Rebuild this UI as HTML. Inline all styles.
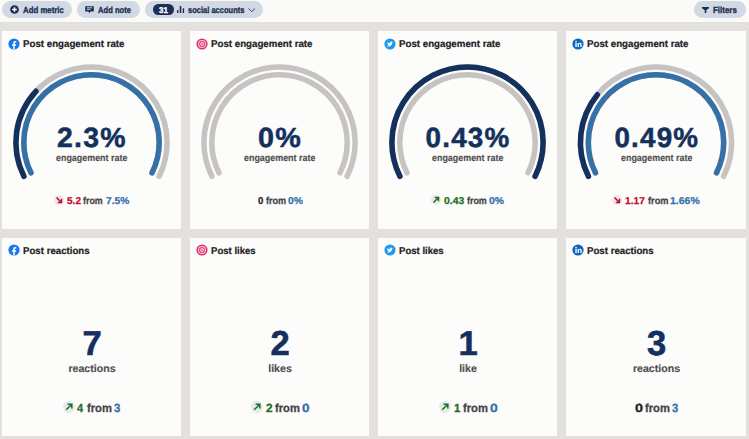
<!DOCTYPE html><html><head><meta charset="utf-8"><style>
html,body{margin:0;padding:0;width:749px;height:439px;overflow:hidden;background:#fafaf9;font-family:"Liberation Sans", sans-serif;}
.c{position:absolute;background:#fcfcfb;}
.b{position:absolute;background:#d2d9e3;border-radius:9px;}
.t{position:absolute;white-space:nowrap;font-weight:700;transform-origin:0 0;text-rendering:geometricPrecision;}
</style></head><body>
<div style="position:absolute;left:0;top:22px;width:749px;height:417px;background:#e3e0dd"></div>
<div class="b" style="left:2px;top:1.2px;width:70px;height:16.8px"></div>
<div class="b" style="left:76.5px;top:1.2px;width:63px;height:16.8px"></div>
<div class="b" style="left:144.5px;top:1.2px;width:118px;height:16.8px"></div>
<div class="b" style="left:694px;top:1.2px;width:52px;height:16.8px"></div>
<svg style="position:absolute;left:9.8px;top:5.4px" width="9" height="9" viewBox="-4.5 -4.5 9 9"><circle r="4.35" fill="#1c3057"/><path d="M-2.3 0H2.3M0 -2.3V2.3" stroke="#fff" stroke-width="1.4"/></svg>
<svg style="position:absolute;left:85px;top:5.8px" width="9" height="8" viewBox="0 0 9 8"><path d="M0.2 0.3H8.8V5.6H5.4L4.4 7.3L3.4 5.6H0.2Z" fill="#1c3057"/><path d="M1.8 1.8H7.2M1.8 3.4H5.4" stroke="#fff" stroke-width="0.75"/></svg>
<div style="position:absolute;left:152.7px;top:4.3px;width:21.7px;height:10.4px;border-radius:5.2px;background:#1c3057"></div>
<svg style="position:absolute;left:177px;top:6px" width="8" height="8" viewBox="0 0 8 8"><rect x="0" y="4" width="1.4" height="3" fill="#1c3057"/><rect x="2.7" y="0" width="1.6" height="7" fill="#1c3057"/><rect x="5.7" y="2.3" width="1.4" height="4.7" fill="#1c3057"/></svg>
<svg style="position:absolute;left:248.2px;top:7.5px" width="7.5" height="4.5" viewBox="0 0 7.5 4.5"><path d="M0.5 0.5L3.75 3.6L7 0.5" stroke="#1c3057" stroke-width="0.9" fill="none"/></svg>
<svg style="position:absolute;left:702.3px;top:6.5px" width="7" height="6.5" viewBox="0 0 7 6.5"><path d="M0 0H7V1.2L4.3 3.3V6.3H2.7V3.3L0 1.2Z" fill="#1c3057"/></svg>
<div class="c" style="left:2px;top:31px;width:179px;height:198px"></div>
<div class="c" style="left:2px;top:238px;width:179px;height:198px"></div>
<div class="c" style="left:190px;top:31px;width:179px;height:198px"></div>
<div class="c" style="left:190px;top:238px;width:179px;height:198px"></div>
<div class="c" style="left:378px;top:31px;width:179px;height:198px"></div>
<div class="c" style="left:378px;top:238px;width:179px;height:198px"></div>
<div class="c" style="left:566px;top:31px;width:180px;height:198px"></div>
<div class="c" style="left:566px;top:238px;width:180px;height:198px"></div>
<svg style="position:absolute;left:7.90px;top:37.50px" width="12" height="12" viewBox="0 0 12 12"><circle cx="6" cy="6" r="5.6" fill="#1877f2"/><path d="M6.75 11.35V7.7h1.25l.22-1.5H6.75v-.95c0-.42.2-.78.8-.78h.75V3.2c-.25-.05-.7-.1-1.15-.1-1.15 0-1.9.72-1.9 1.98v1.12H4.05v1.5h1.2v3.65z" fill="#fff"/></svg>
<svg style="position:absolute;left:7.90px;top:244.20px" width="12" height="12" viewBox="0 0 12 12"><circle cx="6" cy="6" r="5.6" fill="#1877f2"/><path d="M6.75 11.35V7.7h1.25l.22-1.5H6.75v-.95c0-.42.2-.78.8-.78h.75V3.2c-.25-.05-.7-.1-1.15-.1-1.15 0-1.9.72-1.9 1.98v1.12H4.05v1.5h1.2v3.65z" fill="#fff"/></svg>
<svg style="position:absolute;left:2px;top:31px" width="179" height="198"><path d="M21.90 145.35A75.6 75.6 0 1 1 157.10 145.35" stroke="#c6c3c2" stroke-width="5.5" fill="none" stroke-linecap="round"/><path d="M28.97 141.81A67.7 67.7 0 1 1 150.03 141.81" stroke="#c6c3c2" stroke-width="5.5" fill="none" stroke-linecap="round"/><path d="M21.90 145.35A75.6 75.6 0 0 1 33.91 60.27" stroke="#14305d" stroke-width="5.5" fill="none" stroke-linecap="round"/><path d="M28.97 141.81A67.7 67.7 0 1 1 150.03 141.81" stroke="#3571a7" stroke-width="5.5" fill="none" stroke-linecap="round"/></svg>
<svg style="position:absolute;left:195.90px;top:37.50px" width="12" height="12" viewBox="0 0 12 12"><circle cx="6" cy="6" r="5.6" fill="#e1306c"/><rect x="2.75" y="2.75" width="6.5" height="6.5" rx="1.8" fill="none" stroke="#fff" stroke-width="0.9"/><circle cx="6" cy="6" r="1.45" fill="none" stroke="#fff" stroke-width="0.9"/><circle cx="7.95" cy="4.05" r="0.35" fill="#fff"/></svg>
<svg style="position:absolute;left:195.90px;top:244.20px" width="12" height="12" viewBox="0 0 12 12"><circle cx="6" cy="6" r="5.6" fill="#e1306c"/><rect x="2.75" y="2.75" width="6.5" height="6.5" rx="1.8" fill="none" stroke="#fff" stroke-width="0.9"/><circle cx="6" cy="6" r="1.45" fill="none" stroke="#fff" stroke-width="0.9"/><circle cx="7.95" cy="4.05" r="0.35" fill="#fff"/></svg>
<svg style="position:absolute;left:190px;top:31px" width="179" height="198"><path d="M21.90 145.35A75.6 75.6 0 1 1 157.10 145.35" stroke="#c6c3c2" stroke-width="5.5" fill="none" stroke-linecap="round"/><path d="M28.97 141.81A67.7 67.7 0 1 1 150.03 141.81" stroke="#c6c3c2" stroke-width="5.5" fill="none" stroke-linecap="round"/></svg>
<svg style="position:absolute;left:383.90px;top:37.50px" width="12" height="12" viewBox="0 0 12 12"><circle cx="6" cy="6" r="5.6" fill="#1d9bf0"/><path d="M8.9 4.2c-.22.1-.45.16-.7.2.25-.15.44-.39.53-.67-.23.14-.49.24-.76.3a1.2 1.2 0 0 0-2.05 1.1c-1-.05-1.88-.53-2.47-1.25-.1.18-.16.39-.16.6 0 .42.21.79.53 1-.2 0-.38-.06-.54-.15 0 .58.41 1.07.96 1.18-.17.05-.36.05-.54.02.15.48.6.83 1.12.84-.55.43-1.26.65-1.97.57.53.34 1.17.54 1.85.54 2.22 0 3.43-1.84 3.43-3.43v-.16c.23-.17.44-.38.6-.62z" fill="#fff"/></svg>
<svg style="position:absolute;left:383.90px;top:244.20px" width="12" height="12" viewBox="0 0 12 12"><circle cx="6" cy="6" r="5.6" fill="#1d9bf0"/><path d="M8.9 4.2c-.22.1-.45.16-.7.2.25-.15.44-.39.53-.67-.23.14-.49.24-.76.3a1.2 1.2 0 0 0-2.05 1.1c-1-.05-1.88-.53-2.47-1.25-.1.18-.16.39-.16.6 0 .42.21.79.53 1-.2 0-.38-.06-.54-.15 0 .58.41 1.07.96 1.18-.17.05-.36.05-.54.02.15.48.6.83 1.12.84-.55.43-1.26.65-1.97.57.53.34 1.17.54 1.85.54 2.22 0 3.43-1.84 3.43-3.43v-.16c.23-.17.44-.38.6-.62z" fill="#fff"/></svg>
<svg style="position:absolute;left:378px;top:31px" width="179" height="198"><path d="M21.90 145.35A75.6 75.6 0 1 1 157.10 145.35" stroke="#c6c3c2" stroke-width="5.5" fill="none" stroke-linecap="round"/><path d="M28.97 141.81A67.7 67.7 0 1 1 150.03 141.81" stroke="#c6c3c2" stroke-width="5.5" fill="none" stroke-linecap="round"/><path d="M21.90 145.35A75.6 75.6 0 1 1 157.10 145.35" stroke="#14305d" stroke-width="5.5" fill="none" stroke-linecap="round"/></svg>
<svg style="position:absolute;left:571.90px;top:37.50px" width="12" height="12" viewBox="0 0 12 12"><circle cx="6" cy="6" r="5.6" fill="#0a66c2"/><rect x="3.35" y="4.9" width="1.35" height="4.1" fill="#fff"/><circle cx="4.02" cy="3.65" r="0.8" fill="#fff"/><path d="M5.6 4.9h1.3v.6c.2-.37.65-.72 1.3-.72 1.05 0 1.45.65 1.45 1.7V9H8.3V6.75c0-.5-.12-.88-.62-.88s-.75.4-.75.9V9H5.6z" fill="#fff"/></svg>
<svg style="position:absolute;left:571.90px;top:244.20px" width="12" height="12" viewBox="0 0 12 12"><circle cx="6" cy="6" r="5.6" fill="#0a66c2"/><rect x="3.35" y="4.9" width="1.35" height="4.1" fill="#fff"/><circle cx="4.02" cy="3.65" r="0.8" fill="#fff"/><path d="M5.6 4.9h1.3v.6c.2-.37.65-.72 1.3-.72 1.05 0 1.45.65 1.45 1.7V9H8.3V6.75c0-.5-.12-.88-.62-.88s-.75.4-.75.9V9H5.6z" fill="#fff"/></svg>
<svg style="position:absolute;left:566px;top:31px" width="180" height="198"><path d="M22.40 145.35A75.6 75.6 0 1 1 157.60 145.35" stroke="#c6c3c2" stroke-width="5.5" fill="none" stroke-linecap="round"/><path d="M29.47 141.81A67.7 67.7 0 1 1 150.53 141.81" stroke="#c6c3c2" stroke-width="5.5" fill="none" stroke-linecap="round"/><path d="M22.40 145.35A75.6 75.6 0 0 1 31.38 63.76" stroke="#14305d" stroke-width="5.5" fill="none" stroke-linecap="round"/><path d="M29.47 141.81A67.7 67.7 0 1 1 150.53 141.81" stroke="#3571a7" stroke-width="5.5" fill="none" stroke-linecap="round"/></svg>
<svg style="position:absolute;left:53.70px;top:195.10px" width="10.0" height="10.0" viewBox="-5.0 -5.0 10.0 10.0"><circle r="5.0" fill="#eee8e9"/><path d="M-2.50 -2.50L2.50 2.50M2.50 -1.25V2.50H-1.25" stroke="#bf102d" stroke-width="1.5" fill="none" stroke-linecap="butt"/></svg>
<svg style="position:absolute;left:431.15px;top:195.10px" width="10.0" height="10.0" viewBox="-5.0 -5.0 10.0 10.0"><circle r="5.0" fill="#e7ebe8"/><path d="M-2.50 2.50L2.50 -2.50M-1.25 -2.50H2.50V1.25" stroke="#1e6e24" stroke-width="1.5" fill="none" stroke-linecap="butt"/></svg>
<svg style="position:absolute;left:612.30px;top:195.10px" width="10.0" height="10.0" viewBox="-5.0 -5.0 10.0 10.0"><circle r="5.0" fill="#eee8e9"/><path d="M-2.50 -2.50L2.50 2.50M2.50 -1.25V2.50H-1.25" stroke="#bf102d" stroke-width="1.5" fill="none" stroke-linecap="butt"/></svg>
<svg style="position:absolute;left:62.80px;top:401.00px" width="12.0" height="12.0" viewBox="-6.0 -6.0 12.0 12.0"><circle r="6.0" fill="#e7ebe8"/><path d="M-2.80 2.80L2.80 -2.80M-1.40 -2.80H2.80V1.40" stroke="#1e6e24" stroke-width="1.5" fill="none" stroke-linecap="butt"/></svg>
<svg style="position:absolute;left:251.15px;top:401.00px" width="12.0" height="12.0" viewBox="-6.0 -6.0 12.0 12.0"><circle r="6.0" fill="#e7ebe8"/><path d="M-2.80 2.80L2.80 -2.80M-1.40 -2.80H2.80V1.40" stroke="#1e6e24" stroke-width="1.5" fill="none" stroke-linecap="butt"/></svg>
<svg style="position:absolute;left:439.15px;top:401.00px" width="12.0" height="12.0" viewBox="-6.0 -6.0 12.0 12.0"><circle r="6.0" fill="#e7ebe8"/><path d="M-2.80 2.80L2.80 -2.80M-1.40 -2.80H2.80V1.40" stroke="#1e6e24" stroke-width="1.5" fill="none" stroke-linecap="butt"/></svg>
<div class="t" style="left:22.95px;top:5.70px;font-size:8.9px;line-height:8.9px;color:#1c3057;transform:scaleX(0.8820);-webkit-text-stroke:0.35px #1c3057;">Add metric</div>
<div class="t" style="left:98.26px;top:5.70px;font-size:8.9px;line-height:8.9px;color:#1c3057;transform:scaleX(0.8566);-webkit-text-stroke:0.35px #1c3057;">Add note</div>
<div class="t" style="left:158.64px;top:6.15px;font-size:8.5px;line-height:8.5px;color:#ffffff;transform:scaleX(0.9278);-webkit-text-stroke:0.35px #ffffff;">31</div>
<div class="t" style="left:187.56px;top:5.70px;font-size:8.9px;line-height:8.9px;color:#1c3057;transform:scaleX(0.8477);-webkit-text-stroke:0.35px #1c3057;">social accounts</div>
<div class="t" style="left:713.43px;top:5.70px;font-size:8.9px;line-height:8.9px;color:#1c3057;transform:scaleX(0.8951);-webkit-text-stroke:0.35px #1c3057;">Filters</div>
<div class="t" style="left:22.86px;top:39.80px;font-size:9.9px;line-height:9.9px;color:#222222;transform:scaleX(0.9839);-webkit-text-stroke:0.2px #222222;">Post engagement rate</div>
<div class="t" style="left:22.87px;top:246.90px;font-size:9.9px;line-height:9.9px;color:#222222;transform:scaleX(0.9791);-webkit-text-stroke:0.2px #222222;">Post reactions</div>
<div class="t" style="left:57.23px;top:124.30px;font-size:27.8px;line-height:27.8px;color:#14305d;transform:scaleX(1.0222);-webkit-text-stroke:0.5px #14305d;letter-spacing:1.2px;">2.3%</div>
<div class="t" style="left:56.04px;top:154.00px;font-size:9.6px;line-height:9.6px;color:#4f4f4f;transform:scaleX(0.9292);-webkit-text-stroke:0.15px #4f4f4f;">engagement rate</div>
<div class="t" style="left:-58.00px;width:300px;text-align:center;top:326.80px;font-size:34.6px;line-height:34.6px;color:#14305d;-webkit-text-stroke:0.6px #14305d;">7</div>
<div class="t" style="left:-58.00px;width:300px;text-align:center;top:364.00px;font-size:10.6px;line-height:10.6px;color:#4f4f4f;-webkit-text-stroke:0.15px #4f4f4f;">reactions</div>
<div class="t" style="left:210.86px;top:39.80px;font-size:9.9px;line-height:9.9px;color:#222222;transform:scaleX(0.9839);-webkit-text-stroke:0.2px #222222;">Post engagement rate</div>
<div class="t" style="left:210.87px;top:246.90px;font-size:9.9px;line-height:9.9px;color:#222222;transform:scaleX(0.9689);-webkit-text-stroke:0.2px #222222;">Post likes</div>
<div class="t" style="left:258.02px;top:124.30px;font-size:27.8px;line-height:27.8px;color:#14305d;transform:scaleX(1.0340);-webkit-text-stroke:0.5px #14305d;letter-spacing:1.2px;">0%</div>
<div class="t" style="left:244.04px;top:154.00px;font-size:9.6px;line-height:9.6px;color:#4f4f4f;transform:scaleX(0.9292);-webkit-text-stroke:0.15px #4f4f4f;">engagement rate</div>
<div class="t" style="left:130.00px;width:300px;text-align:center;top:326.80px;font-size:34.6px;line-height:34.6px;color:#14305d;-webkit-text-stroke:0.6px #14305d;">2</div>
<div class="t" style="left:130.00px;width:300px;text-align:center;top:364.00px;font-size:10.6px;line-height:10.6px;color:#4f4f4f;-webkit-text-stroke:0.15px #4f4f4f;">likes</div>
<div class="t" style="left:398.86px;top:39.80px;font-size:9.9px;line-height:9.9px;color:#222222;transform:scaleX(0.9839);-webkit-text-stroke:0.2px #222222;">Post engagement rate</div>
<div class="t" style="left:398.87px;top:246.90px;font-size:9.9px;line-height:9.9px;color:#222222;transform:scaleX(0.9689);-webkit-text-stroke:0.2px #222222;">Post likes</div>
<div class="t" style="left:425.55px;top:124.30px;font-size:27.8px;line-height:27.8px;color:#14305d;transform:scaleX(1.0000);-webkit-text-stroke:0.5px #14305d;letter-spacing:1.2px;">0.43%</div>
<div class="t" style="left:432.04px;top:154.00px;font-size:9.6px;line-height:9.6px;color:#4f4f4f;transform:scaleX(0.9292);-webkit-text-stroke:0.15px #4f4f4f;">engagement rate</div>
<div class="t" style="left:318.00px;width:300px;text-align:center;top:326.80px;font-size:34.6px;line-height:34.6px;color:#14305d;-webkit-text-stroke:0.6px #14305d;">1</div>
<div class="t" style="left:318.00px;width:300px;text-align:center;top:364.00px;font-size:10.6px;line-height:10.6px;color:#4f4f4f;-webkit-text-stroke:0.15px #4f4f4f;">like</div>
<div class="t" style="left:586.86px;top:39.80px;font-size:9.9px;line-height:9.9px;color:#222222;transform:scaleX(0.9839);-webkit-text-stroke:0.2px #222222;">Post engagement rate</div>
<div class="t" style="left:586.87px;top:246.90px;font-size:9.9px;line-height:9.9px;color:#222222;transform:scaleX(0.9791);-webkit-text-stroke:0.2px #222222;">Post reactions</div>
<div class="t" style="left:614.40px;top:124.30px;font-size:27.8px;line-height:27.8px;color:#14305d;transform:scaleX(1.0000);-webkit-text-stroke:0.5px #14305d;letter-spacing:1.2px;">0.49%</div>
<div class="t" style="left:620.54px;top:154.00px;font-size:9.6px;line-height:9.6px;color:#4f4f4f;transform:scaleX(0.9292);-webkit-text-stroke:0.15px #4f4f4f;">engagement rate</div>
<div class="t" style="left:506.50px;width:300px;text-align:center;top:326.80px;font-size:34.6px;line-height:34.6px;color:#14305d;-webkit-text-stroke:0.6px #14305d;">3</div>
<div class="t" style="left:506.50px;width:300px;text-align:center;top:364.00px;font-size:10.6px;line-height:10.6px;color:#4f4f4f;-webkit-text-stroke:0.15px #4f4f4f;">reactions</div>
<div class="t" style="left:66.67px;top:197.25px;font-size:10.0px;line-height:10.0px;color:#bf102d;transform:scaleX(1.0075);-webkit-text-stroke:0.25px #bf102d;">5.2</div>
<div class="t" style="left:83.40px;top:197.25px;font-size:10.0px;line-height:10.0px;color:#444444;transform:scaleX(0.8860);-webkit-text-stroke:0.25px #444444;">from</div>
<div class="t" style="left:105.81px;top:197.25px;font-size:10.0px;line-height:10.0px;color:#3572a8;transform:scaleX(1.0205);-webkit-text-stroke:0.25px #3572a8;">7.5%</div>
<div class="t" style="left:257.85px;top:197.25px;font-size:10.0px;line-height:10.0px;color:#222222;transform:scaleX(0.9579);-webkit-text-stroke:0.25px #222222;">0</div>
<div class="t" style="left:266.10px;top:197.25px;font-size:10.0px;line-height:10.0px;color:#444444;transform:scaleX(0.9093);-webkit-text-stroke:0.25px #444444;">from</div>
<div class="t" style="left:288.21px;top:197.25px;font-size:10.0px;line-height:10.0px;color:#3572a8;transform:scaleX(1.0291);-webkit-text-stroke:0.25px #3572a8;">0%</div>
<div class="t" style="left:444.30px;top:197.25px;font-size:10.0px;line-height:10.0px;color:#1e6e24;transform:scaleX(1.0405);-webkit-text-stroke:0.25px #1e6e24;">0.43</div>
<div class="t" style="left:467.10px;top:197.25px;font-size:10.0px;line-height:10.0px;color:#444444;transform:scaleX(0.8907);-webkit-text-stroke:0.25px #444444;">from</div>
<div class="t" style="left:489.11px;top:197.25px;font-size:10.0px;line-height:10.0px;color:#3572a8;transform:scaleX(1.0364);-webkit-text-stroke:0.25px #3572a8;">0%</div>
<div class="t" style="left:625.32px;top:197.25px;font-size:10.0px;line-height:10.0px;color:#bf102d;transform:scaleX(1.0189);-webkit-text-stroke:0.25px #bf102d;">1.17</div>
<div class="t" style="left:647.59px;top:197.25px;font-size:10.0px;line-height:10.0px;color:#444444;transform:scaleX(0.9233);-webkit-text-stroke:0.25px #444444;">from</div>
<div class="t" style="left:670.10px;top:197.25px;font-size:10.0px;line-height:10.0px;color:#3572a8;transform:scaleX(1.0491);-webkit-text-stroke:0.25px #3572a8;">1.66%</div>
<div class="t" style="left:77.32px;top:402.85px;font-size:11.8px;line-height:11.8px;color:#1e6e24;transform:scaleX(0.9280);-webkit-text-stroke:0.3px #1e6e24;">4</div>
<div class="t" style="left:86.71px;top:402.85px;font-size:11.8px;line-height:11.8px;color:#444444;transform:scaleX(0.9505);-webkit-text-stroke:0.3px #444444;">from</div>
<div class="t" style="left:113.81px;top:402.85px;font-size:11.8px;line-height:11.8px;color:#3572a8;transform:scaleX(0.9667);-webkit-text-stroke:0.3px #3572a8;">3</div>
<div class="t" style="left:265.65px;top:402.85px;font-size:11.8px;line-height:11.8px;color:#1e6e24;transform:scaleX(1.0087);-webkit-text-stroke:0.3px #1e6e24;">2</div>
<div class="t" style="left:274.81px;top:402.85px;font-size:11.8px;line-height:11.8px;color:#444444;transform:scaleX(0.9505);-webkit-text-stroke:0.3px #444444;">from</div>
<div class="t" style="left:301.58px;top:402.85px;font-size:11.8px;line-height:11.8px;color:#3572a8;transform:scaleX(1.1455);-webkit-text-stroke:0.3px #3572a8;">0</div>
<div class="t" style="left:453.93px;top:402.85px;font-size:11.8px;line-height:11.8px;color:#1e6e24;transform:scaleX(0.9636);-webkit-text-stroke:0.3px #1e6e24;">1</div>
<div class="t" style="left:463.01px;top:402.85px;font-size:11.8px;line-height:11.8px;color:#444444;transform:scaleX(0.9505);-webkit-text-stroke:0.3px #444444;">from</div>
<div class="t" style="left:489.76px;top:402.85px;font-size:11.8px;line-height:11.8px;color:#3572a8;transform:scaleX(1.1818);-webkit-text-stroke:0.3px #3572a8;">0</div>
<div class="t" style="left:634.94px;top:402.85px;font-size:11.8px;line-height:11.8px;color:#222222;transform:scaleX(1.2182);-webkit-text-stroke:0.3px #222222;">0</div>
<div class="t" style="left:644.71px;top:402.85px;font-size:11.8px;line-height:11.8px;color:#444444;transform:scaleX(0.9505);-webkit-text-stroke:0.3px #444444;">from</div>
<div class="t" style="left:671.81px;top:402.85px;font-size:11.8px;line-height:11.8px;color:#3572a8;transform:scaleX(0.9500);-webkit-text-stroke:0.3px #3572a8;">3</div>
</body></html>
